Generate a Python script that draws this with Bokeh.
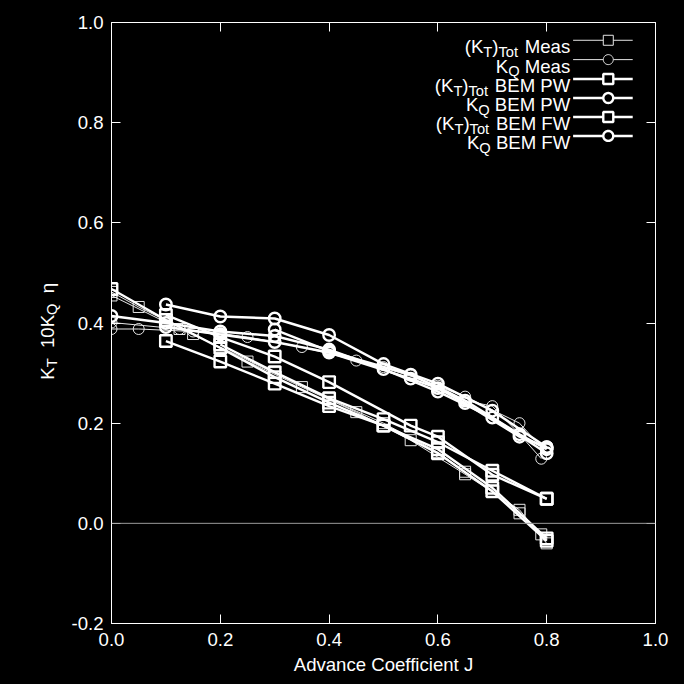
import math
from bokeh.plotting import figure
from bokeh.layouts import row
from bokeh.models import (Span, Label, FixedTicker, PrintfTickFormatter,
                          LinearAxis, Range1d, PolyAnnotation)
from bokeh.embed import file_html
from bokeh.resources import INLINE

# ---------------- data ----------------
J_meas_a = [0.0, 0.05, 0.15, 0.25, 0.35, 0.45, 0.55, 0.65, 0.75, 0.8]
KT_meas_a = [0.462, 0.432, 0.378, 0.323, 0.272, 0.222, 0.166, 0.098, 0.027, -0.040]
KQ_meas_a = [0.388, 0.388, 0.383, 0.372, 0.352, 0.325, 0.295, 0.253, 0.200, 0.140]

J_meas_b = [0.0, 0.125, 0.2, 0.3, 0.4, 0.5, 0.6, 0.65, 0.7, 0.75, 0.79]
KT_meas_b = [0.455, 0.388, 0.352, 0.300, 0.248, 0.200, 0.142, 0.103, 0.064, 0.020, -0.022]
KQ_meas_b = [0.401, 0.388, 0.380, 0.362, 0.341, 0.312, 0.275, 0.245, 0.234, 0.178, 0.129]

J_pw_a = [0.0, 0.1, 0.2, 0.3, 0.4, 0.5, 0.6, 0.7, 0.8]
KT_pw_a = [0.468, 0.406, 0.350, 0.292, 0.241, 0.195, 0.140, 0.064, -0.035]
KQ_pw_a = [0.414, 0.400, 0.383, 0.374, 0.347, 0.308, 0.263, 0.211, 0.140]

J_pw_b = [0.1, 0.2, 0.3, 0.4, 0.5, 0.6, 0.7, 0.8]
KT_pw_b = [0.364, 0.323, 0.279, 0.234, 0.195, 0.148, 0.071, -0.030]
KQ_pw_b = [0.437, 0.413, 0.409, 0.376, 0.318, 0.279, 0.225, 0.152]

J_fw_a = [0.1, 0.2, 0.3, 0.4, 0.55, 0.6, 0.7, 0.8]
KT_fw_a = [0.416, 0.372, 0.333, 0.282, 0.195, 0.173, 0.097, 0.049]
J_fw_b = [0.2, 0.3, 0.4, 0.5, 0.6, 0.7, 0.8]
KT_fw_b = [0.357, 0.302, 0.250, 0.208, 0.162, 0.105, 0.049]

J_fwq_a = [0.1, 0.2, 0.3, 0.4, 0.55, 0.6, 0.65, 0.75, 0.8]
KQ_fw_a = [0.392, 0.377, 0.362, 0.341, 0.289, 0.270, 0.240, 0.173, 0.152]
J_fwq_b = [0.3, 0.4, 0.55, 0.65, 0.75, 0.8]
KQ_fw_b = [0.387, 0.344, 0.297, 0.245, 0.178, 0.148]

x_ticks = [0.0, 0.2, 0.4, 0.6, 0.8, 1.0]
y_ticks = [-0.2, 0.0, 0.2, 0.4, 0.6, 0.8, 1.0]

# ---------------- layout constants ----------------
S = 684 / 700.0                 # scale from the 700px reference
FONT = "Liberation Sans"
FS = 19 * S
FSS = 15 * S
SUB = 5 * S
TOTAL = 684
SIDE_W = 64                     # narrow figure holding the rotated y label
F_LEFT, F_TOP, F_W, F_H = 111, 22, 544, 601
F_BOTTOM = F_TOP + F_H
BG = {"background-color": "black"}

def fx(ref_x):   # reference page x -> frame-relative screen x
    return ref_x * S - F_LEFT

def fy(ref_y):   # reference page y -> frame-relative screen y (from bottom)
    return F_BOTTOM - ref_y * S

# ---------------- main figure ----------------
p = figure(frame_width=F_W, frame_height=F_H,
           x_range=Range1d(0, 1), y_range=Range1d(-0.2, 1.0),
           output_backend="svg", toolbar_location=None,
           min_border_left=F_LEFT - SIDE_W, min_border_right=TOTAL - F_LEFT - F_W,
           min_border_top=F_TOP, min_border_bottom=TOTAL - F_BOTTOM,
           background_fill_color="black", border_fill_color="black",
           outline_line_color="white", styles=BG)
p.grid.visible = False

def style_axis(ax, ticks, show_labels=True):
    ax.ticker = FixedTicker(ticks=ticks)
    ax.formatter = PrintfTickFormatter(format="%.1f")
    ax.major_tick_in = 9
    ax.major_tick_out = 0
    ax.minor_tick_in = 0
    ax.minor_tick_out = 0
    ax.axis_line_color = "white"
    ax.major_tick_line_color = "white"
    ax.major_label_text_color = "white"
    ax.major_label_text_font = FONT
    ax.major_label_text_font_size = f"{FS:.1f}px"
    if not show_labels:
        ax.major_label_overrides = {t: "" for t in ticks}
        ax.major_label_standoff = 0

style_axis(p.xaxis[0], x_ticks)
style_axis(p.yaxis[0], y_ticks)
p.xaxis[0].major_label_standoff = 9
p.yaxis[0].major_label_standoff = 8
p.xaxis[0].axis_label = "Advance Coefficient J"
p.xaxis[0].axis_label_text_font = FONT
p.xaxis[0].axis_label_text_font_size = f"{FS:.1f}px"
p.xaxis[0].axis_label_text_font_style = "normal"
p.xaxis[0].axis_label_text_color = "white"
p.xaxis[0].axis_label_standoff = 5

top = LinearAxis()
style_axis(top, x_ticks, show_labels=False)
p.add_layout(top, "above")
right = LinearAxis()
style_axis(right, y_ticks, show_labels=False)
p.add_layout(right, "right")

p.add_layout(Span(location=0, dimension="width", line_color="#9a9a9a", line_width=1))

# ---------------- series ----------------
THIN_C, BOLD_C = "#e6e6e6", "white"
THIN_W, BOLD_W = 1.0, 2.4

def series(J, V, marker, bold):
    w = BOLD_W if bold else THIN_W
    col = BOLD_C if bold else THIN_C
    p.line(J, V, line_color=col, line_width=w)
    p.scatter(J, V, marker=marker, size=11.5 if bold else 11, fill_color=None,
              line_color=col, line_width=w)

series(J_meas_a, KT_meas_a, "square", False)
series(J_meas_b, KT_meas_b, "square", False)
series(J_meas_a, KQ_meas_a, "circle", False)
series(J_meas_b, KQ_meas_b, "circle", False)
series(J_pw_a, KT_pw_a, "square", True)
series(J_pw_b, KT_pw_b, "square", True)
series(J_pw_a, KQ_pw_a, "circle", True)
series(J_pw_b, KQ_pw_b, "circle", True)
series(J_fw_a, KT_fw_a, "square", True)
series(J_fw_b, KT_fw_b, "square", True)
series(J_fwq_a, KQ_fw_a, "circle", True)
series(J_fwq_b, KQ_fw_b, "circle", True)

# ---------------- legend (texts with subscripts + samples) ----------------
WID = {' ': 278, '(': 333, ')': 333, 'K': 667, 'T': 611, 'o': 556, 't': 278,
       'M': 833, 'e': 556, 'a': 556, 's': 500, 'B': 667, 'E': 667, 'P': 667,
       'W': 944, 'F': 611, 'Q': 778, '1': 556, '0': 556, 'η': 556}

def tw(s, size):
    return sum(WID.get(c, 556) for c in s) * size / 1000.0

rows = [
    ([("(", 0), ("K", 0), ("T", 1), (")", 0), ("Tot", 1), (" Meas", 0)], "square", False),
    ([("K", 0), ("Q", 1), (" Meas", 0)], "circle", False),
    ([("(", 0), ("K", 0), ("T", 1), (")", 0), ("Tot", 1), (" BEM PW", 0)], "square", True),
    ([("K", 0), ("Q", 1), (" BEM PW", 0)], "circle", True),
    ([("(", 0), ("K", 0), ("T", 1), (")", 0), ("Tot", 1), (" BEM FW", 0)], "square", True),
    ([("K", 0), ("Q", 1), (" BEM FW", 0)], "circle", True),
]
row_cy = [40.7, 60.5, 80.3, 99.8, 119.3, 138.6]   # reference row centres
TEXT_RIGHT = 583 * S
LINE_X0, LINE_X1, MARK_X = 586, 647, 622
MARK_R = 5.0

for (pieces, marker, bold), cy in zip(rows, row_cy):
    base = cy * S + 0.36 * FS
    total = sum(tw(t, FSS if s else FS) for t, s in pieces)
    x = TEXT_RIGHT - total
    for t, s in pieces:
        size = FSS if s else FS
        lead = len(t) - len(t.lstrip(" "))
        x += tw(" " * lead, size)
        txt = t.lstrip(" ")
        y = base + (SUB if s else 0)
        p.add_layout(Label(x=x - F_LEFT, y=F_BOTTOM - y, x_units="screen",
                           y_units="screen", text=txt, text_font=FONT,
                           text_font_size=f"{size:.1f}px", text_color="white",
                           text_align="left", text_baseline="alphabetic"))
        x += tw(txt, size)
    # sample line and marker
    w = BOLD_W if bold else THIN_W
    col = BOLD_C if bold else THIN_C
    yc = fy(cy)
    p.add_layout(PolyAnnotation(xs=[fx(LINE_X0), fx(LINE_X1)], ys=[yc, yc],
                                xs_units="screen", ys_units="screen",
                                fill_color=None, line_color=col, line_alpha=1.0,
                                line_width=w))
    mx = fx(MARK_X)
    if marker == "square":
        xs = [mx - MARK_R, mx + MARK_R, mx + MARK_R, mx - MARK_R]
        ys = [yc - MARK_R, yc - MARK_R, yc + MARK_R, yc + MARK_R]
    else:
        n = 28
        xs = [mx + MARK_R * math.cos(2 * math.pi * k / n) for k in range(n)]
        ys = [yc + MARK_R * math.sin(2 * math.pi * k / n) for k in range(n)]
    p.add_layout(PolyAnnotation(xs=xs, ys=ys, xs_units="screen", ys_units="screen",
                                fill_color="black", fill_alpha=1.0, line_color=col,
                                line_alpha=1.0, line_width=w))

# ---------------- side figure with rotated y label: K_T  10K_Q  η ----------------
side = figure(frame_width=SIDE_W, frame_height=F_H,
              x_range=Range1d(0, 1), y_range=Range1d(0, 1),
              output_backend="svg", toolbar_location=None,
              x_axis_location=None, y_axis_location=None,
              min_border_left=0, min_border_right=0,
              min_border_top=F_TOP, min_border_bottom=TOTAL - F_BOTTOM,
              background_fill_color="black", border_fill_color="black",
              outline_line_color=None, styles=BG)
side.grid.visible = False

ypieces = [("K", 0), ("T", 1), ("  10K", 0), ("Q", 1), ("  η", 0)]
py = 388.0 * S
for t, s in ypieces:
    size = FSS if s else FS
    lead = len(t) - len(t.lstrip(" "))
    py -= tw(" " * lead, size)
    txt = t.lstrip(" ")
    bx = 48 * S + (SUB if s else 0)
    side.add_layout(Label(x=bx, y=F_BOTTOM - py, x_units="screen", y_units="screen",
                          text=txt, text_font=FONT, text_font_size=f"{size:.1f}px",
                          text_color="white", angle=math.pi / 2,
                          text_align="left", text_baseline="alphabetic"))
    py -= tw(txt, size)

layout = row(side, p, spacing=0, styles=BG)
open("out.html", "w").write(file_html(layout, INLINE))
